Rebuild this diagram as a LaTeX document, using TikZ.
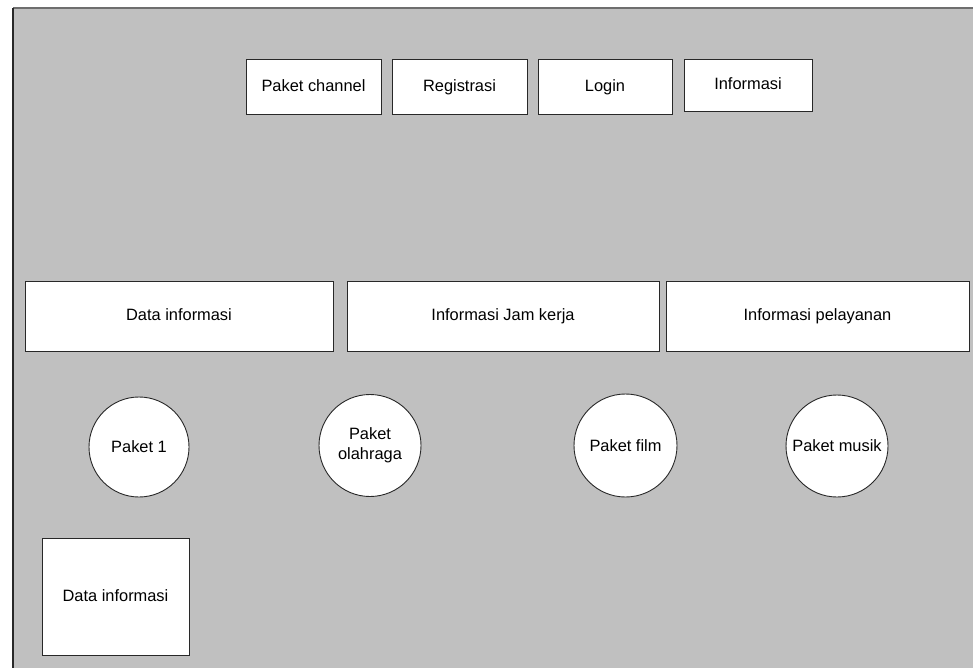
\documentclass[tikz,border=0pt]{standalone}
\usepackage{fontspec}
\setmainfont{Liberation Sans}
\definecolor{bggray}{RGB}{192,192,192}
\definecolor{edgegray}{RGB}{110,110,110}
\definecolor{edgedark}{RGB}{40,40,40}
\begin{document}
\begin{tikzpicture}[x=1pt,y=-1pt,
  box/.style={draw=edgedark,fill=white,line width=0.9pt,inner sep=0pt,rectangle,
    font=\fontsize{16.4}{20}\selectfont,text height=13pt,text depth=3.2pt},
  pkg/.style={draw=edgedark,fill=white,line width=0.9pt,inner sep=0pt,circle,
    font=\fontsize{16.4}{20.5}\selectfont,align=center}]
\useasboundingbox (0,0) rectangle (973,668);
\fill[bggray] (13,8) rectangle (980,680);
\draw[edgegray,line width=1.2pt] (13,8) -- (980,8);
\draw[edgedark,line width=1.2pt] (13,8) -- (13,680);
% top row
\node[box,minimum width=135pt,minimum height=55pt] (pc) at (313.5,86.5) {Paket channel};
\node[box,minimum width=135pt,minimum height=55pt] (reg) at (459.5,86.5) {Registrasi};
\node[box,minimum width=134pt,minimum height=55pt] (login) at (605,86.5) {Login};
\node[box,minimum width=128pt,minimum height=52pt] (info) at (748,85) {Informasi};
% second row
\node[box,minimum width=308pt,minimum height=70pt] (di) at (179,316) {Data informasi};
\node[box,minimum width=312pt,minimum height=70pt] (jam) at (503,316) {Informasi Jam kerja};
\node[box,minimum width=303pt,minimum height=70pt] (pel) at (817.5,316) {Informasi pelayanan};
% circles
\node[pkg,minimum size=100pt] (p1) at (139,447) {Paket 1};
\node[pkg,minimum size=102pt] (po) at (370,445.5) {Paket\\olahraga};
\node[pkg,minimum size=103pt] (pf) at (625.5,445.5) {Paket film};
\node[pkg,minimum size=102pt] (pm) at (837,446) {Paket musik};
% bottom box
\node[box,minimum width=147pt,minimum height=117pt] (di2) at (115.5,596.5) {Data informasi};
\end{tikzpicture}
\end{document}
